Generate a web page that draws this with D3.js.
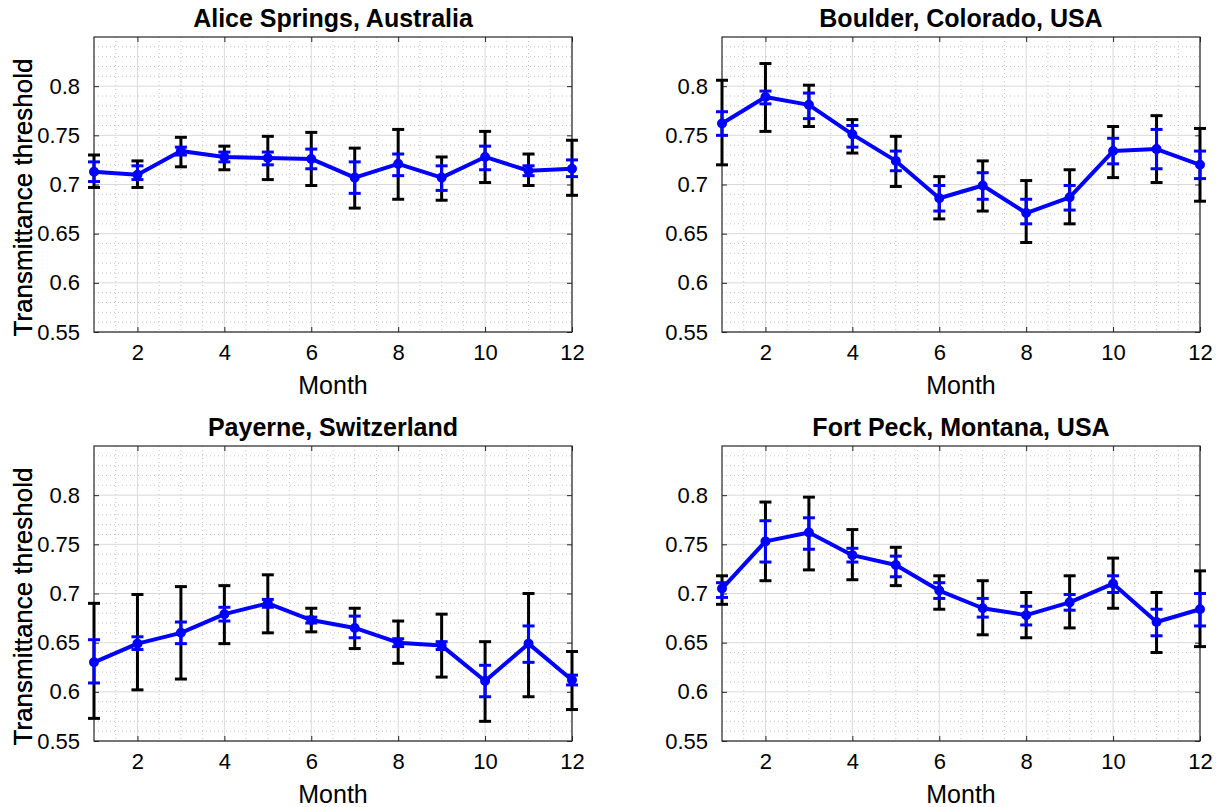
<!DOCTYPE html>
<html>
<head>
<meta charset="utf-8">
<script src="https://cdn.jsdelivr.net/npm/d3@7"></script>
<style>
  body { margin: 0; background: #fff; }
  text { font-family: "Liberation Sans", Arial, sans-serif; fill: #000; }
</style>
</head>
<body>
<svg id="fig" width="1219" height="807"></svg>
<script>
// monthly transmittance thresholds, one row per site
const months = [1, 2, 3, 4, 5, 6, 7, 8, 9, 10, 11, 12];
const siteNames = ["Alice Springs, Australia", "Boulder, Colorado, USA",
                   "Payerne, Switzerland", "Fort Peck, Montana, USA"];

const meanVals = [
  [0.713, 0.710, 0.734, 0.728, 0.727, 0.726, 0.707, 0.721, 0.707, 0.728, 0.714, 0.716],
  [0.762, 0.789, 0.781, 0.751, 0.724, 0.686, 0.699, 0.671, 0.687, 0.734, 0.736, 0.720],
  [0.630, 0.649, 0.660, 0.679, 0.690, 0.673, 0.665, 0.650, 0.647, 0.611, 0.649, 0.612],
  [0.705, 0.753, 0.762, 0.739, 0.729, 0.703, 0.685, 0.678, 0.691, 0.710, 0.671, 0.684]
];
// black bars (wide spread)
const outerHi = [
  [0.730, 0.724, 0.748, 0.739, 0.749, 0.753, 0.737, 0.756, 0.728, 0.754, 0.731, 0.745],
  [0.806, 0.823, 0.801, 0.766, 0.749, 0.708, 0.724, 0.704, 0.715, 0.759, 0.770, 0.757],
  [0.690, 0.699, 0.707, 0.708, 0.719, 0.685, 0.685, 0.672, 0.679, 0.651, 0.700, 0.641],
  [0.718, 0.793, 0.798, 0.765, 0.747, 0.718, 0.713, 0.701, 0.718, 0.736, 0.701, 0.723]
];
const outerLo = [
  [0.697, 0.697, 0.718, 0.715, 0.705, 0.699, 0.676, 0.685, 0.684, 0.702, 0.699, 0.689],
  [0.720, 0.754, 0.759, 0.732, 0.698, 0.665, 0.673, 0.641, 0.660, 0.707, 0.702, 0.683],
  [0.573, 0.602, 0.613, 0.649, 0.660, 0.661, 0.644, 0.629, 0.615, 0.570, 0.595, 0.582],
  [0.689, 0.713, 0.724, 0.714, 0.708, 0.684, 0.658, 0.655, 0.665, 0.685, 0.640, 0.646]
];
// blue bars (narrow spread)
const innerHi = [
  [0.723, 0.719, 0.738, 0.733, 0.733, 0.736, 0.723, 0.731, 0.719, 0.739, 0.719, 0.725],
  [0.774, 0.795, 0.793, 0.760, 0.734, 0.699, 0.712, 0.685, 0.699, 0.747, 0.756, 0.734],
  [0.653, 0.656, 0.671, 0.686, 0.694, 0.676, 0.677, 0.654, 0.651, 0.627, 0.667, 0.617],
  [0.711, 0.774, 0.777, 0.746, 0.738, 0.711, 0.695, 0.687, 0.699, 0.718, 0.684, 0.700]
];
const innerLo = [
  [0.703, 0.705, 0.730, 0.723, 0.720, 0.716, 0.691, 0.709, 0.694, 0.715, 0.709, 0.708],
  [0.750, 0.782, 0.767, 0.738, 0.714, 0.673, 0.685, 0.660, 0.674, 0.721, 0.716, 0.706],
  [0.609, 0.643, 0.649, 0.672, 0.686, 0.670, 0.655, 0.646, 0.643, 0.595, 0.630, 0.607],
  [0.696, 0.732, 0.745, 0.732, 0.717, 0.695, 0.676, 0.668, 0.683, 0.701, 0.657, 0.667]
];

const xTicks = [2, 4, 6, 8, 10, 12];
const yTicks = [0.55, 0.6, 0.65, 0.7, 0.75, 0.8];

// panel placement
const origins = [[94, 37], [722, 37], [94, 446], [722, 446]];
const pw = 478, ph = 295;

const svg = d3.select("#fig");

function drawPanel(i) {
  let g = svg.append("g").attr("transform", "translate(" + origins[i][0] + "," + origins[i][1] + ")");

  let x = d3.scaleLinear().domain([1, 12]).range([0, pw]);
  let y = d3.scaleLinear().domain([0.55, 0.85]).range([ph, 0]);

  // minor grid (dotted)
  let xMinor = d3.range(3, 24).map(v => v / 2).filter(v => v % 2 !== 0);
  let yMinor = d3.range(56, 85).filter(v => v % 5 !== 0).map(v => v / 100);
  g.append("g").selectAll("line").data(xMinor).enter().append("line")
    .attr("x1", d => x(d)).attr("x2", d => x(d)).attr("y1", 0).attr("y2", ph)
    .attr("stroke", "#b8b8b8").attr("stroke-dasharray", "1,3").attr("stroke-width", 0.8);
  g.append("g").selectAll("line").data(yMinor).enter().append("line")
    .attr("y1", d => y(d)).attr("y2", d => y(d)).attr("x1", 0).attr("x2", pw)
    .attr("stroke", "#b8b8b8").attr("stroke-dasharray", "1,3").attr("stroke-width", 0.8);

  // major grid
  g.append("g").selectAll("line").data(xTicks).enter().append("line")
    .attr("x1", d => x(d)).attr("x2", d => x(d)).attr("y1", 0).attr("y2", ph)
    .attr("stroke", "#dadada");
  g.append("g").selectAll("line").data(yTicks).enter().append("line")
    .attr("y1", d => y(d)).attr("y2", d => y(d)).attr("x1", 0).attr("x2", pw)
    .attr("stroke", "#dadada");

  // axes, ticks inside on all four sides
  let axStyle = a => {
    a.select(".domain").remove();
    a.selectAll(".tick line").attr("stroke", "#262626");
    a.selectAll(".tick text").style("font-size", "22px").attr("fill", "#000");
  };
  g.append("g").attr("transform", "translate(0," + ph + ")")
    .call(d3.axisBottom(x).tickValues(xTicks).tickFormat(d3.format("d")).tickSizeInner(-5).tickPadding(12))
    .call(axStyle);
  g.append("g")
    .call(d3.axisTop(x).tickValues(xTicks).tickSizeInner(-5).tickFormat(""))
    .call(axStyle);
  g.append("g")
    .call(d3.axisLeft(y).tickValues(yTicks).tickFormat(d => d3.format(".2~f")(d)).tickSizeInner(-5).tickPadding(14))
    .call(axStyle);
  g.append("g").attr("transform", "translate(" + pw + ",0)")
    .call(d3.axisRight(y).tickValues(yTicks).tickSizeInner(-5).tickFormat(""))
    .call(axStyle);

  g.append("rect").attr("width", pw).attr("height", ph)
    .attr("fill", "none").attr("stroke", "#262626").attr("stroke-width", 1.2);

  let rows = months.map((m, k) => ({
    m: m, v: meanVals[i][k],
    oLo: outerLo[i][k], oHi: outerHi[i][k],
    iLo: innerLo[i][k], iHi: innerHi[i][k]
  }));
  let cap = 6;

  // black error bars
  let ob = g.append("g").attr("stroke", "#000").attr("stroke-width", 3);
  rows.forEach(r => {
    ob.append("line").attr("x1", x(r.m)).attr("x2", x(r.m)).attr("y1", y(r.oLo)).attr("y2", y(r.oHi));
    ob.append("line").attr("x1", x(r.m) - cap).attr("x2", x(r.m) + cap).attr("y1", y(r.oLo)).attr("y2", y(r.oLo));
    ob.append("line").attr("x1", x(r.m) - cap).attr("x2", x(r.m) + cap).attr("y1", y(r.oHi)).attr("y2", y(r.oHi));
  });

  // blue mean line
  g.append("path").datum(rows)
    .attr("fill", "none").attr("stroke", "#0000ff").attr("stroke-width", 4)
    .attr("stroke-linejoin", "round")
    .attr("d", d3.line().x(d => x(d.m)).y(d => y(d.v)));

  // blue error bars
  let ib = g.append("g").attr("stroke", "#0000ff").attr("stroke-width", 3);
  rows.forEach(r => {
    ib.append("line").attr("x1", x(r.m)).attr("x2", x(r.m)).attr("y1", y(r.iLo)).attr("y2", y(r.iHi));
    ib.append("line").attr("x1", x(r.m) - cap).attr("x2", x(r.m) + cap).attr("y1", y(r.iLo)).attr("y2", y(r.iLo));
    ib.append("line").attr("x1", x(r.m) - cap).attr("x2", x(r.m) + cap).attr("y1", y(r.iHi)).attr("y2", y(r.iHi));
  });

  g.append("g").selectAll("circle").data(rows).enter().append("circle")
    .attr("cx", d => x(d.m)).attr("cy", d => y(d.v)).attr("r", 4)
    .attr("fill", "#0000ff").attr("stroke", "#0000ff").attr("stroke-width", 2);

  // labels
  g.append("text").attr("x", pw / 2).attr("y", -10).attr("text-anchor", "middle")
    .style("font-size", "25px").style("font-weight", "bold").text(siteNames[i]);
  g.append("text").attr("x", pw / 2).attr("y", ph + 62).attr("text-anchor", "middle")
    .style("font-size", "25px").text("Month");
  g.append("text").attr("transform", "translate(" + (32 - origins[i][0]) + "," + (ph / 2 + 13) + ") rotate(-90)")
    .attr("text-anchor", "middle").style("font-size", "26px").text("Transmittance threshold");
}

for (let i = 0; i < siteNames.length; i++) drawPanel(i);
</script>
</body>
</html>
